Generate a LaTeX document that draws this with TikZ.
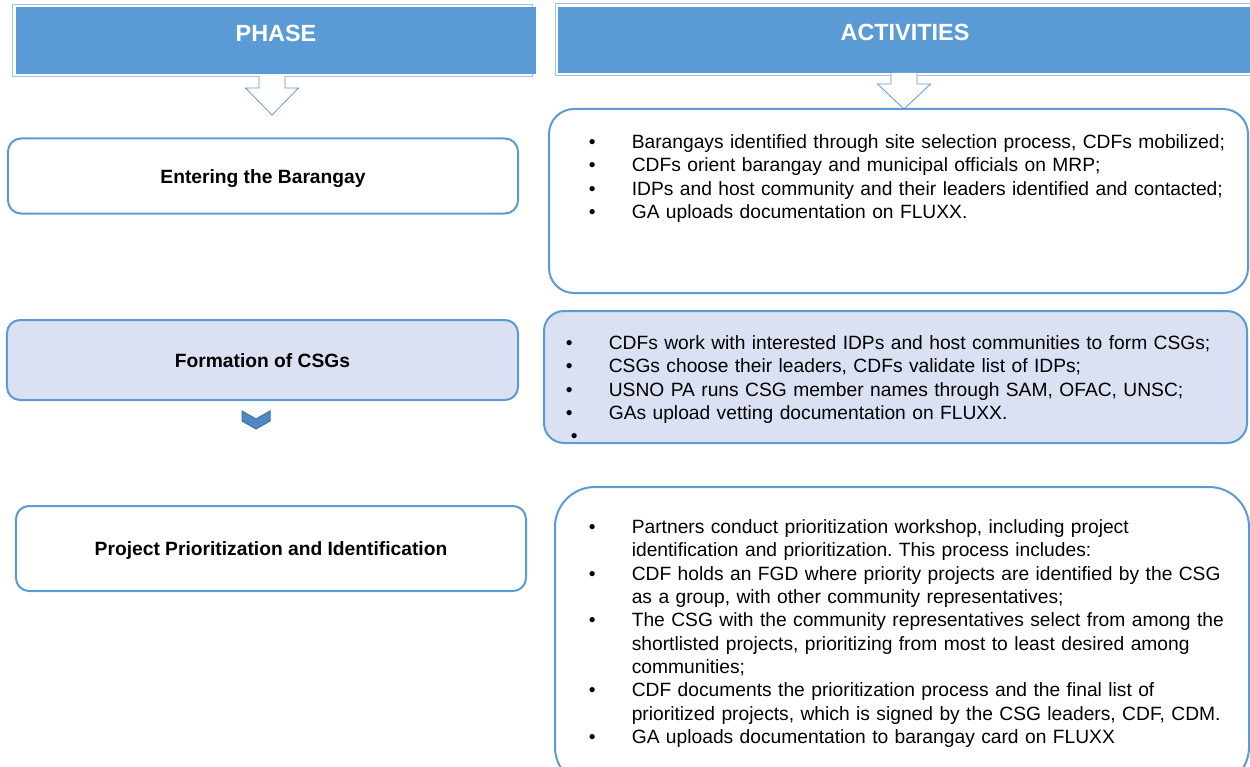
\documentclass[tikz,border=0pt]{standalone}
\usepackage{fontspec}
\setmainfont{Liberation Sans}
\frenchspacing

\definecolor{hdrblue}{HTML}{5B9BD5}
\definecolor{hdrline}{HTML}{9DC3E6}
\definecolor{boxline}{HTML}{5B9BD5}
\definecolor{lavender}{HTML}{DAE1F3}
\definecolor{chevfill}{HTML}{4F88C6}
\definecolor{chevline}{HTML}{41719C}

\newcommand{\actitem}[1]{\par\noindent\hangindent=43bp\hangafter=1\makebox[43bp][l]{\textbullet}#1}

\begin{document}
\begin{tikzpicture}
  [x=1bp,y=-1bp,
   header/.style={fill=hdrblue,inner sep=0pt,text depth=15bp,text=white,font=\fontsize{23.5}{28}\selectfont\bfseries},
   phasebox/.style={draw=boxline,line width=2bp,rounded corners=13bp,minimum width=510bp,minimum height=75bp,inner sep=0pt,text height=14bp,text depth=0bp,font=\fontsize{19.3}{23}\selectfont\bfseries},
   actbox/.style={draw=boxline,line width=2bp,inner sep=0pt},
   items/.style={anchor=north west,inner sep=0pt,text width=660bp,align=left,font=\fontsize{19.3}{23.4}\selectfont},
   hollow/.style={draw=boxline,fill=white,line width=0.8bp}]
  \useasboundingbox (0,0) rectangle (1250,767);
  \clip (0,0) rectangle (1250,767);

  % headers
  \draw[hdrline,line width=1bp] (12.5,5) rectangle (532,77);
  \draw[hdrline,line width=1bp] (555,4) rectangle (1260,76);
  \node[header,minimum width=520bp,minimum height=67bp] (phase) at (276,40.5) {PHASE};
  \node[header,minimum width=694bp,minimum height=66bp] (activities) at (905,40) {ACTIVITIES};

  \foreach \ax/\atop/\aneck/\atip in {272/76/88/115, 904/73/84/109}
    \draw[hollow] (\ax-13,\atop) -- (\ax-13,\aneck) -- (\ax-26.5,\aneck) -- (\ax,\atip)
      -- (\ax+26.5,\aneck) -- (\ax+13,\aneck) -- (\ax+13,\atop);

  % phases
  \node[phasebox] (enter) at (263,176) {Entering the Barangay};
  \node[phasebox,fill=lavender,minimum width=511bp,minimum height=80bp] (form) at (262.5,360) {Formation of CSGs};
  \node[phasebox,minimum height=85bp] (proj) at (271,548.5) {Project Prioritization and Identification};

  \draw[fill=chevfill,draw=chevline,line width=1bp] (242,411) -- (256,419) -- (270,411)
    -- (270,421) -- (256,429) -- (242,421) -- cycle;

  % activities
  \node[actbox,rounded corners=25bp,minimum width=699bp,minimum height=184bp] (act1) at (898.5,201) {};
  \node[actbox,fill=lavender,rounded corners=20bp,minimum width=703bp,minimum height=132bp] (act2) at (895.5,377) {};
  \node[actbox,rounded corners=40bp,minimum width=694bp,minimum height=300bp] (act3) at (902,637) {};

  \node[items] (list1) at (588.6,125) {%
    \actitem{Barangays identified through site selection process, CDFs mobilized;}
    \actitem{CDFs orient barangay and municipal officials on MRP;}
    \actitem{IDPs and host community and their leaders identified and contacted;}
    \actitem{GA uploads documentation on FLUXX.}};
  \node[items] (list2) at (565.6,326) {%
    \actitem{CDFs work with interested IDPs and host communities to form CSGs;}
    \actitem{CSGs choose their leaders, CDFs validate list of IDPs;}
    \actitem{USNO PA runs CSG member names through SAM, OFAC, UNSC;}
    \actitem{GAs upload vetting documentation on FLUXX.}
    \par\noindent\hspace*{5bp}\textbullet};
  \node[items] (list3) at (588.6,510) {%
    \actitem{Partners conduct prioritization workshop, including project\newline identification and prioritization. This process includes:}
    \actitem{CDF holds an FGD where priority projects are identified by the CSG\newline as a group, with other community representatives;}
    \actitem{The CSG with the community representatives select from among the\newline shortlisted projects, prioritizing from most to least desired among\newline communities;}
    \actitem{CDF documents the prioritization process and the final list of\newline prioritized projects, which is signed by the CSG leaders, CDF, CDM.}
    \actitem{GA uploads documentation to barangay card on FLUXX}};
\end{tikzpicture}
\end{document}
